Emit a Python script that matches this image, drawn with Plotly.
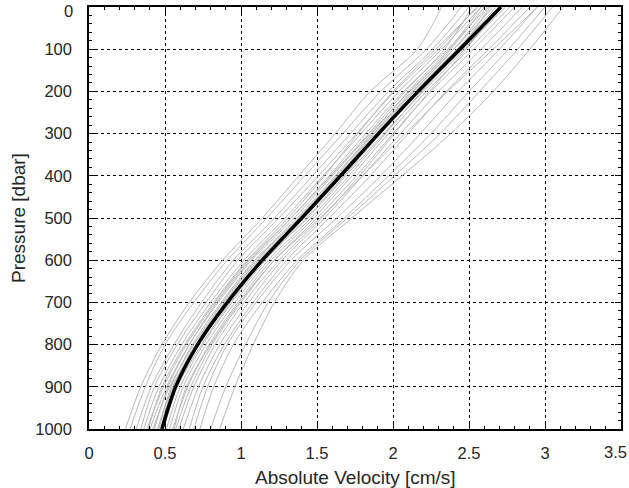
import plotly.graph_objects as go

pressure = [0, 100, 200, 300, 400, 500, 600, 700, 800, 900, 1000]

profiles = [
    [2.32, 2.16, 1.85, 1.62, 1.38, 1.14, 0.88, 0.66, 0.48, 0.34, 0.24],
    [2.45, 2.22, 1.92, 1.67, 1.42, 1.17, 0.91, 0.69, 0.50, 0.37, 0.27],
    [2.50, 2.26, 1.97, 1.72, 1.47, 1.22, 0.95, 0.74, 0.56, 0.41, 0.31],
    [2.55, 2.30, 2.01, 1.76, 1.51, 1.25, 0.98, 0.77, 0.58, 0.43, 0.34],
    [2.58, 2.32, 2.04, 1.79, 1.54, 1.29, 1.02, 0.80, 0.61, 0.46, 0.36],
    [2.62, 2.36, 2.07, 1.82, 1.58, 1.33, 1.05, 0.83, 0.64, 0.49, 0.38],
    [2.66, 2.40, 2.11, 1.85, 1.60, 1.35, 1.07, 0.85, 0.66, 0.51, 0.40],
    [2.60, 2.38, 2.12, 1.87, 1.63, 1.38, 1.10, 0.88, 0.69, 0.53, 0.42],
    [2.68, 2.42, 2.14, 1.89, 1.65, 1.40, 1.12, 0.90, 0.71, 0.55, 0.45],
    [2.74, 2.46, 2.18, 1.92, 1.68, 1.43, 1.16, 0.94, 0.75, 0.60, 0.51],
    [2.64, 2.44, 2.19, 1.95, 1.71, 1.46, 1.18, 0.96, 0.77, 0.62, 0.53],
    [2.77, 2.50, 2.22, 1.97, 1.73, 1.48, 1.20, 0.98, 0.79, 0.65, 0.55],
    [2.80, 2.53, 2.25, 2.00, 1.76, 1.50, 1.22, 1.00, 0.81, 0.67, 0.57],
    [2.70, 2.48, 2.24, 2.01, 1.78, 1.53, 1.25, 1.02, 0.83, 0.69, 0.59],
    [2.85, 2.58, 2.30, 2.05, 1.80, 1.55, 1.27, 1.05, 0.86, 0.72, 0.62],
    [2.90, 2.63, 2.35, 2.10, 1.85, 1.58, 1.30, 1.08, 0.89, 0.75, 0.66],
    [2.95, 2.70, 2.43, 2.18, 1.92, 1.63, 1.33, 1.10, 0.91, 0.78, 0.69],
    [3.00, 2.76, 2.50, 2.25, 1.97, 1.68, 1.37, 1.14, 0.95, 0.82, 0.73],
    [3.05, 2.82, 2.57, 2.31, 2.01, 1.70, 1.39, 1.18, 1.03, 0.90, 0.80],
    [3.12, 2.90, 2.66, 2.38, 2.06, 1.73, 1.41, 1.22, 1.08, 0.96, 0.86],
    [2.52, 2.34, 2.08, 1.84, 1.59, 1.33, 1.06, 0.84, 0.66, 0.52, 0.43],
    [2.58, 2.37, 2.10, 1.86, 1.62, 1.37, 1.09, 0.87, 0.68, 0.54, 0.46],
    [2.63, 2.40, 2.13, 1.88, 1.64, 1.39, 1.11, 0.89, 0.70, 0.55, 0.47],
    [2.72, 2.47, 2.20, 1.94, 1.69, 1.44, 1.15, 0.93, 0.74, 0.58, 0.49],
    [2.56, 2.28, 2.00, 1.77, 1.55, 1.31, 1.04, 0.82, 0.63, 0.48, 0.39],
    [2.95, 2.66, 2.36, 2.08, 1.80, 1.52, 1.22, 0.99, 0.80, 0.64, 0.56],
]

mean_profile = [2.71, 2.44, 2.165, 1.905, 1.655, 1.40, 1.14, 0.91, 0.715, 0.57, 0.48]

x_ticks = [0, 0.5, 1, 1.5, 2, 2.5, 3, 3.5]
x_labels = ["0", "0.5", "1", "1.5", "2", "2.5", "3", "3.5"]
y_ticks = [0, 100, 200, 300, 400, 500, 600, 700, 800, 900, 1000]
y_labels = ["0", "100", "200", "300", "400", "500", "600", "700", "800", "900", "1000"]

fig = go.Figure()
for prof in profiles:
    fig.add_trace(go.Scatter(x=prof, y=pressure, mode="lines",
                             line=dict(color="#b8b8b8", width=1, shape="spline", smoothing=0.8),
                             hoverinfo="skip", showlegend=False))
fig.add_trace(go.Scatter(x=mean_profile, y=pressure, mode="lines",
                         line=dict(color="black", width=3.5, shape="spline", smoothing=0.8),
                         showlegend=False))

font = dict(family="Liberation Sans, Arial, sans-serif", size=16.5, color="#262626")

# edge labels are drawn as annotations so that they stay inside the page
shown_x_labels = x_labels[:-1] + [""]
shown_y_labels = [""] + y_labels[1:]

fig.update_layout(
    width=629, height=488,
    margin=dict(l=89, r=8, t=7, b=59),
    paper_bgcolor="white", plot_bgcolor="white",
    font=font,
    xaxis=dict(range=[0, 3.5], tickvals=x_ticks, ticktext=shown_x_labels, automargin=False,
               ticklabeloverflow="allow",
               showline=True, linecolor="black", linewidth=1.5, mirror="allticks",
               ticks="inside", ticklen=6, tickcolor="black", tickwidth=1,
               minor=dict(dtick=0.1, ticks="inside", ticklen=3, tickcolor="black", showgrid=False),
               showgrid=True, gridcolor="black", griddash="dot", gridwidth=1,
               zeroline=False, ticklabelstandoff=8),
    yaxis=dict(range=[1000, 0], tickvals=y_ticks, ticktext=shown_y_labels, automargin=False,
               ticklabeloverflow="allow",
               showline=True, linecolor="black", linewidth=1.5, mirror="allticks",
               ticks="inside", ticklen=6, tickcolor="black", tickwidth=1,
               minor=dict(dtick=20, ticks="inside", ticklen=3, tickcolor="black", showgrid=False),
               showgrid=True, gridcolor="black", griddash="dot", gridwidth=1,
               zeroline=False, ticklabelstandoff=12),
    annotations=[
        dict(text=x_labels[-1], xref="x", yref="paper",
             x=x_ticks[-1], y=0, xshift=8, yshift=-23, xanchor="right", yanchor="middle",
             showarrow=False, font=dict(size=16.5)),
        dict(text=y_labels[0], xref="paper", yref="y",
             x=0, y=y_ticks[0], xshift=-14, yshift=7, xanchor="right", yanchor="top",
             showarrow=False, font=dict(size=16.5)),
        dict(text="Absolute Velocity [cm/s]", xref="paper", yref="paper",
             x=0.5, y=0, yshift=-48, xanchor="center", yanchor="middle",
             showarrow=False, font=dict(size=19)),
        dict(text="Pressure [dbar]", xref="paper", yref="paper",
             x=0, y=0.5, xshift=-71, xanchor="center", yanchor="middle",
             textangle=-90, showarrow=False, font=dict(size=19)),
    ],
)

fig.write_html("out.html", config={"displayModeBar": False},
               post_script="document.body.style.margin='0';document.body.style.padding='0';")
